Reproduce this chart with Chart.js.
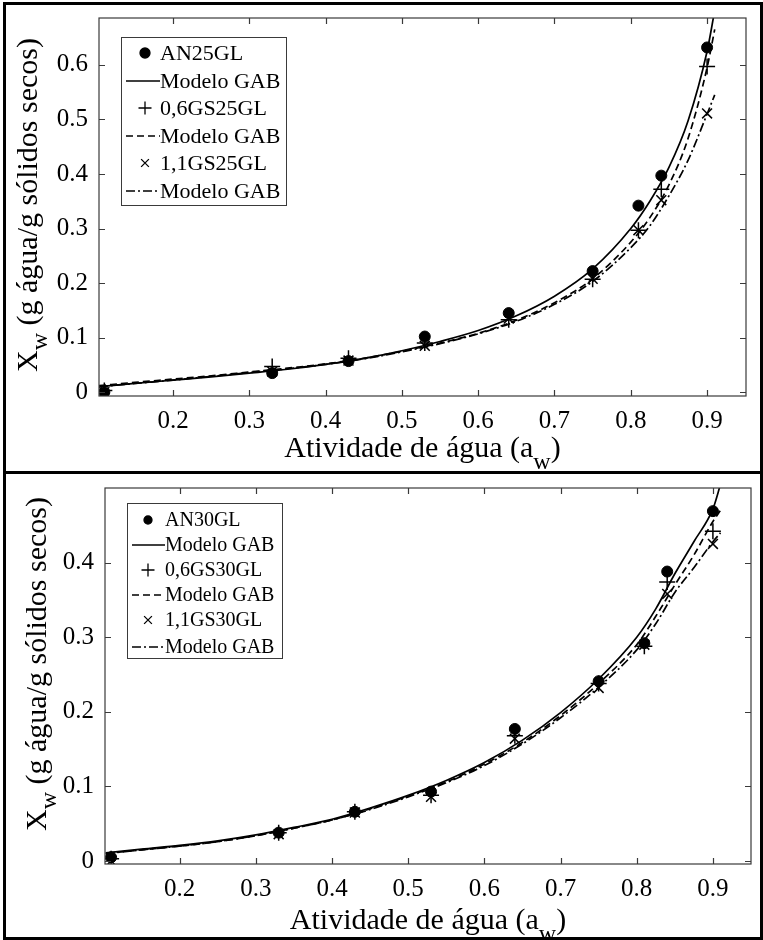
<!DOCTYPE html>
<html>
<head>
<meta charset="utf-8">
<script src="https://cdn.jsdelivr.net/npm/chart.js"></script>
<style>
  html, body { margin: 0; padding: 0; background: #fff; }
  #page { position: relative; width: 763px; height: 940px; overflow: hidden; }
  .panel { position: absolute; left: 0; width: 763px; height: 470px; }
  .frame { position: absolute; box-sizing: border-box; border: 3px solid #000; pointer-events: none; }
</style>
</head>
<body>
<div id="page">
  <div class="panel" style="top:0"><canvas id="chartTop"></canvas></div>
  <div class="panel" style="top:470px"><canvas id="chartBottom"></canvas></div>
  <div class="frame" style="left:3px;top:2px;width:760px;height:472px"></div>
  <div class="frame" style="left:3px;top:471px;width:760px;height:469px"></div>
</div>
<script>
// ---- data ----
// water activity of the measured samples
const awPoints = [0.11, 0.33, 0.43, 0.53, 0.64, 0.75, 0.81, 0.84, 0.90];

// 25 GL samples (top)
const an25   = [0.000, 0.035, 0.057, 0.102, 0.145, 0.222, 0.342, 0.397, 0.632];
const gs06_25 = [0.003, 0.047, 0.062, 0.090, 0.133, 0.207, 0.297, 0.372, 0.597];
const gs11_25 = [0.000, 0.038, 0.058, 0.085, 0.135, 0.208, 0.297, 0.352, 0.511];

// 30 GL samples (bottom)
const an30   = [0.005, 0.038, 0.066, 0.093, 0.177, 0.241, 0.292, 0.388, 0.469];
const gs06_30 = [0.003, 0.038, 0.066, 0.088, 0.168, 0.238, 0.288, 0.374, 0.442];
const gs11_30 = [0.000, 0.036, 0.065, 0.086, 0.164, 0.232, 0.290, 0.358, 0.425];

// GAB model curves
const gabX = [0.103, 0.15, 0.2, 0.25, 0.3, 0.35, 0.4, 0.45, 0.5, 0.55, 0.6, 0.65, 0.7, 0.75, 0.8, 0.825, 0.85, 0.875, 0.9, 0.91];
const gabAN25   = [0.010, 0.016, 0.022, 0.028, 0.035, 0.042, 0.051, 0.062, 0.076, 0.093, 0.113, 0.140, 0.176, 0.226, 0.300, 0.350, 0.412, 0.497, 0.625, 0.700];
const gabGS06_25 = [0.012, 0.018, 0.024, 0.030, 0.037, 0.044, 0.052, 0.062, 0.075, 0.090, 0.108, 0.132, 0.164, 0.208, 0.275, 0.320, 0.380, 0.465, 0.595, 0.665];
const gabGS11_25 = [0.010, 0.016, 0.022, 0.029, 0.036, 0.043, 0.051, 0.061, 0.074, 0.089, 0.107, 0.130, 0.161, 0.203, 0.265, 0.305, 0.360, 0.425, 0.510, 0.545];

const gabAN30   = [0.011, 0.016, 0.021, 0.027, 0.035, 0.045, 0.056, 0.071, 0.088, 0.108, 0.132, 0.162, 0.199, 0.244, 0.300, 0.338, 0.385, 0.428, 0.472, 0.505];
const gabGS06_30 = [0.010, 0.015, 0.020, 0.026, 0.034, 0.044, 0.055, 0.070, 0.087, 0.106, 0.130, 0.159, 0.195, 0.238, 0.290, 0.328, 0.370, 0.410, 0.455, 0.470];
const gabGS11_30 = [0.010, 0.015, 0.020, 0.026, 0.034, 0.044, 0.055, 0.069, 0.086, 0.105, 0.128, 0.157, 0.192, 0.233, 0.283, 0.318, 0.360, 0.393, 0.428, 0.440];

// ticks and labels
const xTicks = [0.2, 0.3, 0.4, 0.5, 0.6, 0.7, 0.8, 0.9];
const yTicksTop = [0, 0.1, 0.2, 0.3, 0.4, 0.5, 0.6];
const yTicksBottom = [0, 0.1, 0.2, 0.3, 0.4];
const namesTop = ['AN25GL', '0,6GS25GL', '1,1GS25GL'];
const namesBottom = ['AN30GL', '0,6GS30GL', '1,1GS30GL'];
const modelName = 'Modelo GAB';

const FONT = '"Liberation Serif", "Times New Roman", serif';

function pairs(xs, ys) {
  return xs.map((x, i) => ({ x: x, y: ys[i] }));
}

function buildDatasets(names, samples, curves) {
  const marks = [
    { pointStyle: 'circle', pointRadius: 5.5, borderWidth: 1 },
    { pointStyle: 'cross', pointRadius: 8, borderWidth: 1.5 },
    { pointStyle: 'crossRot', pointRadius: 7, borderWidth: 1.5 }
  ];
  const dashes = [[], [7, 4], [9, 3, 2, 3]];
  const out = [];
  names.forEach((name, i) => {
    out.push({
      label: name,
      data: pairs(awPoints, samples[i]),
      showLine: false,
      pointStyle: marks[i].pointStyle,
      pointRadius: marks[i].pointRadius,
      pointBorderWidth: marks[i].borderWidth,
      backgroundColor: '#000',
      borderColor: '#000',
      order: 0
    });
    out.push({
      label: modelName,
      data: pairs(gabX, curves[i]),
      showLine: true,
      pointRadius: 0,
      borderColor: '#000',
      borderWidth: 1.7,
      borderDash: dashes[i],
      cubicInterpolationMode: 'monotone',
      order: 1
    });
  });
  return out;
}

// MATLAB style box with inward ticks on all four sides
const boxTicks = {
  id: 'boxTicks',
  afterDatasetsDraw(chart) {
    const { ctx, chartArea: a, scales: { x, y } } = chart;
    const len = 6;
    ctx.save();
    ctx.strokeStyle = '#3a3a3a';
    ctx.lineWidth = 1.2;
    ctx.strokeRect(a.left, a.top, a.right - a.left, a.bottom - a.top);
    ctx.beginPath();
    x.ticks.forEach(t => {
      const px = Math.round(x.getPixelForValue(t.value)) + 0.5;
      ctx.moveTo(px, a.bottom); ctx.lineTo(px, a.bottom - len);
      ctx.moveTo(px, a.top); ctx.lineTo(px, a.top + len);
    });
    y.ticks.forEach(t => {
      const py = Math.round(y.getPixelForValue(t.value)) + 0.5;
      ctx.moveTo(a.left, py); ctx.lineTo(a.left + len, py);
      ctx.moveTo(a.right, py); ctx.lineTo(a.right - len, py);
    });
    ctx.stroke();
    ctx.restore();
  }
};

// legend box drawn inside the plot, one row per dataset
const legendBox = {
  id: 'legendBox',
  afterDraw(chart, args, o) {
    const ctx = chart.ctx;
    const [l, t, r, b] = o.box;
    ctx.save();
    ctx.fillStyle = '#fff';
    ctx.fillRect(l, t, r - l, b - t);
    ctx.strokeStyle = '#3a3a3a';
    ctx.lineWidth = 1;
    ctx.strokeRect(l + 0.5, t + 0.5, r - l, b - t);
    chart.data.datasets.forEach((ds, i) => {
      const y = o.rows[i];
      ctx.strokeStyle = '#000';
      ctx.fillStyle = '#000';
      if (ds.showLine) {
        ctx.lineWidth = 1.4;
        ctx.setLineDash(ds.borderDash || []);
        ctx.beginPath();
        ctx.moveTo(o.lineX[0], y);
        ctx.lineTo(o.lineX[1], y);
        ctx.stroke();
        ctx.setLineDash([]);
      } else {
        ctx.lineWidth = 1.3;
        Chart.helpers.drawPoint(ctx, {
          pointStyle: ds.pointStyle,
          radius: o.markRadius[ds.pointStyle],
          borderWidth: 1.3,
          rotation: 0
        }, o.markX, y);
      }
      ctx.font = o.fontSize + 'px ' + FONT;
      ctx.textBaseline = 'middle';
      ctx.textAlign = 'left';
      ctx.fillText(ds.label, o.textX, y + 1);
    });
    ctx.restore();
  }
};

function drawRich(ctx, parts, x, y) {
  let w = 0;
  parts.forEach(p => { ctx.font = p[1] + 'px ' + FONT; w += ctx.measureText(p[0]).width; });
  let cx = x - w / 2;
  parts.forEach(p => {
    ctx.font = p[1] + 'px ' + FONT;
    ctx.fillText(p[0], cx, y + (p[2] || 0));
    cx += ctx.measureText(p[0]).width;
  });
}

// axis titles with subscripts
const axisTitles = {
  id: 'axisTitles',
  afterDraw(chart, args, o) {
    const { ctx, chartArea: a } = chart;
    ctx.save();
    ctx.fillStyle = '#000';
    ctx.textBaseline = 'alphabetic';
    ctx.textAlign = 'left';
    drawRich(ctx, [['Atividade de água (a', 30], ['w', 24, 12], [')', 30]], (a.left + a.right) / 2, o.xBase);
    ctx.translate(o.yBase, o.yCenter);
    ctx.rotate(-Math.PI / 2);
    drawRich(ctx, [['X', 30], ['w', 24, 10], [' (g água/g sólidos secos)', 30]], 0, 0);
    ctx.restore();
  }
};

function makeChart(id, cfg) {
  return new Chart(document.getElementById(id), {
    type: 'scatter',
    data: { datasets: cfg.datasets },
    options: {
      responsive: true,
      maintainAspectRatio: false,
      animation: false,
      events: [],
      layout: { padding: { left: 0, top: cfg.padTop, right: cfg.padRight, bottom: 0 } },
      scales: {
        x: {
          type: 'linear',
          min: cfg.xMin,
          max: cfg.xMax,
          afterBuildTicks: s => { s.ticks = xTicks.map(v => ({ value: v })); },
          afterFit: s => { s.height = cfg.xAxisH; },
          grid: { display: false },
          border: { display: false },
          ticks: { color: '#000', padding: 2, maxRotation: 0, font: { family: FONT, size: 25 } }
        },
        y: {
          type: 'linear',
          min: cfg.yMin,
          max: cfg.yMax,
          afterBuildTicks: s => { s.ticks = cfg.yTicks.map(v => ({ value: v })); },
          afterFit: s => { s.width = cfg.yAxisW; },
          grid: { display: false },
          border: { display: false },
          ticks: { color: '#000', padding: 3, font: { family: FONT, size: 25 } }
        }
      },
      plugins: {
        legend: { display: false },
        tooltip: { enabled: false },
        legendBox: cfg.legend,
        axisTitles: cfg.titles
      }
    },
    plugins: [boxTicks, legendBox, axisTitles]
  });
}

makeChart('chartTop', {
  datasets: buildDatasets(namesTop, [an25, gs06_25, gs11_25], [gabAN25, gabGS06_25, gabGS11_25]),
  xMin: 0.103, xMax: 0.951, yMin: -0.007, yMax: 0.686,
  yTicks: yTicksTop,
  padTop: 18, padRight: 17, xAxisH: 74, yAxisW: 99,
  legend: {
    box: [121, 37, 286, 205],
    rows: [53, 81, 108, 136, 163, 191],
    markX: 145, lineX: [126, 160],
    textX: 160,
    markRadius: { circle: 5, cross: 6.5, crossRot: 5.5 },
    fontSize: 22
  },
  titles: { xBase: 457, yBase: 37, yCenter: 205 }
});

makeChart('chartBottom', {
  datasets: buildDatasets(namesBottom, [an30, gs06_30, gs11_30], [gabAN30, gabGS06_30, gabGS11_30]),
  xMin: 0.102, xMax: 0.95, yMin: -0.004, yMax: 0.5,
  yTicks: yTicksBottom,
  padTop: 14, padRight: 12, xAxisH: 76, yAxisW: 105,
  legend: {
    box: [127, 33, 282, 188],
    rows: [50, 75, 100, 125, 150, 177],
    markX: 148, lineX: [132, 165],
    textX: 165,
    markRadius: { circle: 4, cross: 6.5, crossRot: 5.5 },
    fontSize: 20
  },
  titles: { xBase: 459, yBase: 46, yCenter: 194 }
});
</script>
</body>
</html>
